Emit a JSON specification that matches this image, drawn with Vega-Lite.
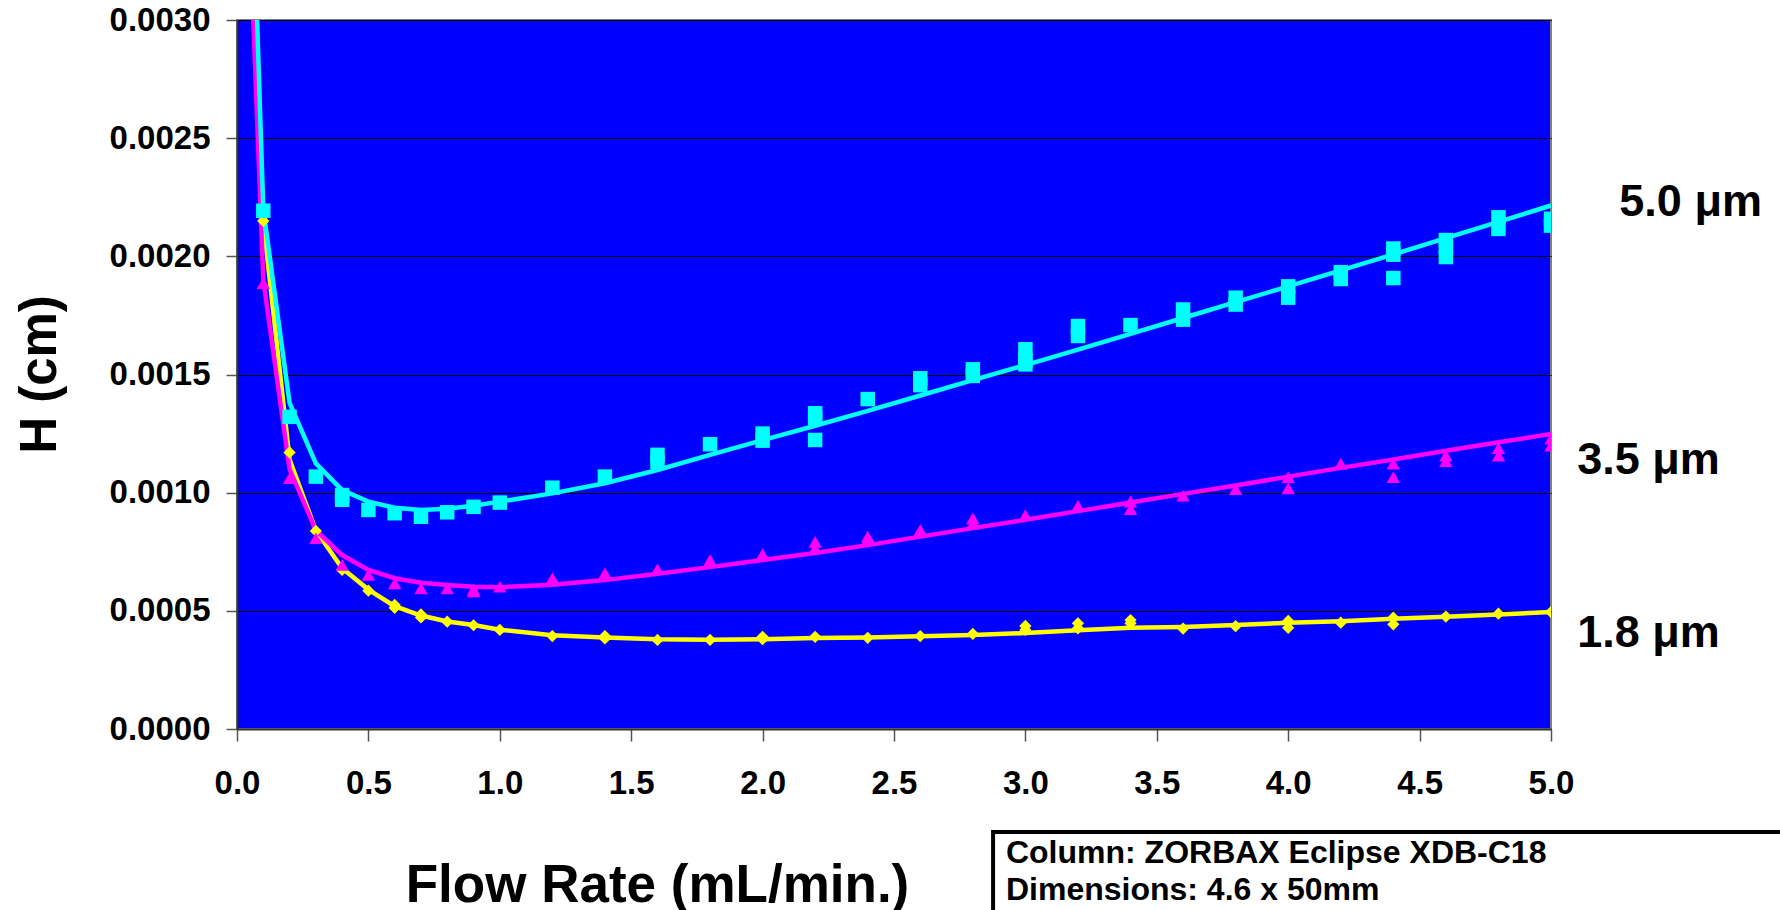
{
  "$schema": "https://vega.github.io/schema/vega-lite/v6.json",
  "width": 1314,
  "height": 709,
  "autosize": {"type": "none"},
  "padding": {"left": 237, "top": 20, "right": 229, "bottom": 181},
  "background": "white",
  "config": {
    "view": {"fill": "#0000FF", "stroke": "#808080", "strokeWidth": 2},
    "font": "Liberation Sans"
  },
  "datasets": {
    "fit": [
      {"series": "1.8", "flow": 0.05, "H": 0.00355},
      {"series": "1.8", "flow": 0.1, "H": 0.00215},
      {"series": "1.8", "flow": 0.2, "H": 0.00114},
      {"series": "1.8", "flow": 0.3, "H": 0.00084},
      {"series": "1.8", "flow": 0.4, "H": 0.00068},
      {"series": "1.8", "flow": 0.5, "H": 0.00059},
      {"series": "1.8", "flow": 0.6, "H": 0.00052},
      {"series": "1.8", "flow": 0.7, "H": 0.00048},
      {"series": "1.8", "flow": 0.8, "H": 0.000455},
      {"series": "1.8", "flow": 0.9, "H": 0.00044},
      {"series": "1.8", "flow": 1.0, "H": 0.00042},
      {"series": "1.8", "flow": 1.2, "H": 0.000397},
      {"series": "1.8", "flow": 1.4, "H": 0.000387},
      {"series": "1.8", "flow": 1.6, "H": 0.00038},
      {"series": "1.8", "flow": 1.8, "H": 0.000378},
      {"series": "1.8", "flow": 2.0, "H": 0.00038},
      {"series": "1.8", "flow": 2.2, "H": 0.000385},
      {"series": "1.8", "flow": 2.4, "H": 0.000387},
      {"series": "1.8", "flow": 2.6, "H": 0.000392},
      {"series": "1.8", "flow": 2.8, "H": 0.000398},
      {"series": "1.8", "flow": 3.0, "H": 0.000406},
      {"series": "1.8", "flow": 3.2, "H": 0.000418},
      {"series": "1.8", "flow": 3.4, "H": 0.000428},
      {"series": "1.8", "flow": 3.6, "H": 0.000432},
      {"series": "1.8", "flow": 3.8, "H": 0.00044},
      {"series": "1.8", "flow": 4.0, "H": 0.00045},
      {"series": "1.8", "flow": 4.2, "H": 0.000456},
      {"series": "1.8", "flow": 4.4, "H": 0.000466},
      {"series": "1.8", "flow": 4.6, "H": 0.000475},
      {"series": "1.8", "flow": 4.8, "H": 0.000485},
      {"series": "1.8", "flow": 5.0, "H": 0.000495},
      {"series": "3.5", "flow": 0.05, "H": 0.00335},
      {"series": "3.5", "flow": 0.1, "H": 0.0019},
      {"series": "3.5", "flow": 0.2, "H": 0.0011},
      {"series": "3.5", "flow": 0.3, "H": 0.00084},
      {"series": "3.5", "flow": 0.4, "H": 0.000736},
      {"series": "3.5", "flow": 0.5, "H": 0.000673},
      {"series": "3.5", "flow": 0.6, "H": 0.000638},
      {"series": "3.5", "flow": 0.7, "H": 0.000619},
      {"series": "3.5", "flow": 0.8, "H": 0.000609},
      {"series": "3.5", "flow": 0.9, "H": 0.000602},
      {"series": "3.5", "flow": 1.0, "H": 0.0006},
      {"series": "3.5", "flow": 1.2, "H": 0.00061},
      {"series": "3.5", "flow": 1.4, "H": 0.00063},
      {"series": "3.5", "flow": 1.6, "H": 0.000657},
      {"series": "3.5", "flow": 1.8, "H": 0.000685},
      {"series": "3.5", "flow": 2.0, "H": 0.000715},
      {"series": "3.5", "flow": 2.2, "H": 0.000745},
      {"series": "3.5", "flow": 2.4, "H": 0.000778},
      {"series": "3.5", "flow": 2.6, "H": 0.000814},
      {"series": "3.5", "flow": 2.8, "H": 0.00085},
      {"series": "3.5", "flow": 3.0, "H": 0.000885},
      {"series": "3.5", "flow": 3.2, "H": 0.000922},
      {"series": "3.5", "flow": 3.4, "H": 0.000958},
      {"series": "3.5", "flow": 3.6, "H": 0.000995},
      {"series": "3.5", "flow": 3.8, "H": 0.00103},
      {"series": "3.5", "flow": 4.0, "H": 0.001068},
      {"series": "3.5", "flow": 4.2, "H": 0.001105},
      {"series": "3.5", "flow": 4.4, "H": 0.00114},
      {"series": "3.5", "flow": 4.6, "H": 0.001177},
      {"series": "3.5", "flow": 4.8, "H": 0.001213},
      {"series": "3.5", "flow": 5.0, "H": 0.001248},
      {"series": "5.0", "flow": 0.05, "H": 0.0039},
      {"series": "5.0", "flow": 0.1, "H": 0.0022},
      {"series": "5.0", "flow": 0.2, "H": 0.00138},
      {"series": "5.0", "flow": 0.3, "H": 0.001124},
      {"series": "5.0", "flow": 0.4, "H": 0.001011},
      {"series": "5.0", "flow": 0.5, "H": 0.000962},
      {"series": "5.0", "flow": 0.6, "H": 0.000936},
      {"series": "5.0", "flow": 0.7, "H": 0.000927},
      {"series": "5.0", "flow": 0.8, "H": 0.000932},
      {"series": "5.0", "flow": 0.9, "H": 0.000945},
      {"series": "5.0", "flow": 1.0, "H": 0.000962},
      {"series": "5.0", "flow": 1.2, "H": 0.000997},
      {"series": "5.0", "flow": 1.4, "H": 0.00104},
      {"series": "5.0", "flow": 1.6, "H": 0.001096},
      {"series": "5.0", "flow": 1.8, "H": 0.00116},
      {"series": "5.0", "flow": 2.0, "H": 0.001222},
      {"series": "5.0", "flow": 2.2, "H": 0.001283},
      {"series": "5.0", "flow": 2.4, "H": 0.001346},
      {"series": "5.0", "flow": 2.6, "H": 0.001411},
      {"series": "5.0", "flow": 2.8, "H": 0.001476},
      {"series": "5.0", "flow": 3.0, "H": 0.00154},
      {"series": "5.0", "flow": 3.2, "H": 0.001605},
      {"series": "5.0", "flow": 3.4, "H": 0.001672},
      {"series": "5.0", "flow": 3.6, "H": 0.001739},
      {"series": "5.0", "flow": 3.8, "H": 0.001806},
      {"series": "5.0", "flow": 4.0, "H": 0.001873},
      {"series": "5.0", "flow": 4.2, "H": 0.001941},
      {"series": "5.0", "flow": 4.4, "H": 0.002008},
      {"series": "5.0", "flow": 4.6, "H": 0.002077},
      {"series": "5.0", "flow": 4.8, "H": 0.002146},
      {"series": "5.0", "flow": 5.0, "H": 0.002215}
    ],
    "obs": [
      {"series": "1.8", "flow": 0.1, "H": 0.00215},
      {"series": "1.8", "flow": 0.2, "H": 0.00117},
      {"series": "1.8", "flow": 0.3, "H": 0.000838},
      {"series": "1.8", "flow": 0.4, "H": 0.000673},
      {"series": "1.8", "flow": 0.5, "H": 0.000585},
      {"series": "1.8", "flow": 0.6, "H": 0.000513},
      {"series": "1.8", "flow": 0.6, "H": 0.000525},
      {"series": "1.8", "flow": 0.7, "H": 0.000472},
      {"series": "1.8", "flow": 0.7, "H": 0.000485},
      {"series": "1.8", "flow": 0.8, "H": 0.000454},
      {"series": "1.8", "flow": 0.9, "H": 0.000439},
      {"series": "1.8", "flow": 1.0, "H": 0.000419},
      {"series": "1.8", "flow": 1.2, "H": 0.000393},
      {"series": "1.8", "flow": 1.4, "H": 0.000383},
      {"series": "1.8", "flow": 1.4, "H": 0.000393},
      {"series": "1.8", "flow": 1.6, "H": 0.000377},
      {"series": "1.8", "flow": 1.8, "H": 0.000377},
      {"series": "1.8", "flow": 2.0, "H": 0.00038},
      {"series": "1.8", "flow": 2.0, "H": 0.00039},
      {"series": "1.8", "flow": 2.2, "H": 0.00039},
      {"series": "1.8", "flow": 2.4, "H": 0.000386},
      {"series": "1.8", "flow": 2.6, "H": 0.000393},
      {"series": "1.8", "flow": 2.8, "H": 0.000402},
      {"series": "1.8", "flow": 3.0, "H": 0.000436},
      {"series": "1.8", "flow": 3.0, "H": 0.000419},
      {"series": "1.8", "flow": 3.2, "H": 0.000447},
      {"series": "1.8", "flow": 3.2, "H": 0.000426},
      {"series": "1.8", "flow": 3.4, "H": 0.000461},
      {"series": "1.8", "flow": 3.4, "H": 0.000447},
      {"series": "1.8", "flow": 3.6, "H": 0.000425},
      {"series": "1.8", "flow": 3.8, "H": 0.000435},
      {"series": "1.8", "flow": 4.0, "H": 0.000457},
      {"series": "1.8", "flow": 4.0, "H": 0.000428},
      {"series": "1.8", "flow": 4.2, "H": 0.00045},
      {"series": "1.8", "flow": 4.4, "H": 0.000471},
      {"series": "1.8", "flow": 4.4, "H": 0.000443},
      {"series": "1.8", "flow": 4.6, "H": 0.000476},
      {"series": "1.8", "flow": 4.8, "H": 0.000488},
      {"series": "1.8", "flow": 5.0, "H": 0.000495},
      {"series": "3.5", "flow": 0.1, "H": 0.001886},
      {"series": "3.5", "flow": 0.2, "H": 0.001061},
      {"series": "3.5", "flow": 0.3, "H": 0.000807},
      {"series": "3.5", "flow": 0.4, "H": 0.000694},
      {"series": "3.5", "flow": 0.5, "H": 0.000652},
      {"series": "3.5", "flow": 0.6, "H": 0.000616},
      {"series": "3.5", "flow": 0.7, "H": 0.000595},
      {"series": "3.5", "flow": 0.8, "H": 0.000595},
      {"series": "3.5", "flow": 0.9, "H": 0.000591},
      {"series": "3.5", "flow": 0.9, "H": 0.000582},
      {"series": "3.5", "flow": 1.0, "H": 0.000602},
      {"series": "3.5", "flow": 1.2, "H": 0.000638},
      {"series": "3.5", "flow": 1.4, "H": 0.000659},
      {"series": "3.5", "flow": 1.6, "H": 0.000676},
      {"series": "3.5", "flow": 1.8, "H": 0.000715},
      {"series": "3.5", "flow": 2.0, "H": 0.00074},
      {"series": "3.5", "flow": 2.2, "H": 0.000792},
      {"series": "3.5", "flow": 2.2, "H": 0.000764},
      {"series": "3.5", "flow": 2.4, "H": 0.000814},
      {"series": "3.5", "flow": 2.4, "H": 0.0008},
      {"series": "3.5", "flow": 2.6, "H": 0.000842},
      {"series": "3.5", "flow": 2.8, "H": 0.000891},
      {"series": "3.5", "flow": 2.8, "H": 0.00087},
      {"series": "3.5", "flow": 3.0, "H": 0.000905},
      {"series": "3.5", "flow": 3.2, "H": 0.000944},
      {"series": "3.5", "flow": 3.4, "H": 0.000962},
      {"series": "3.5", "flow": 3.4, "H": 0.00093},
      {"series": "3.5", "flow": 3.6, "H": 0.000987},
      {"series": "3.5", "flow": 3.8, "H": 0.001015},
      {"series": "3.5", "flow": 4.0, "H": 0.001066},
      {"series": "3.5", "flow": 4.0, "H": 0.001018},
      {"series": "3.5", "flow": 4.2, "H": 0.001123},
      {"series": "3.5", "flow": 4.4, "H": 0.001123},
      {"series": "3.5", "flow": 4.4, "H": 0.001066},
      {"series": "3.5", "flow": 4.6, "H": 0.001156},
      {"series": "3.5", "flow": 4.6, "H": 0.001133},
      {"series": "3.5", "flow": 4.8, "H": 0.001188},
      {"series": "3.5", "flow": 4.8, "H": 0.001156},
      {"series": "3.5", "flow": 5.0, "H": 0.001228},
      {"series": "3.5", "flow": 5.0, "H": 0.001199},
      {"series": "5.0", "flow": 0.1, "H": 0.002193},
      {"series": "5.0", "flow": 0.2, "H": 0.001321},
      {"series": "5.0", "flow": 0.3, "H": 0.001068},
      {"series": "5.0", "flow": 0.4, "H": 0.00099},
      {"series": "5.0", "flow": 0.4, "H": 0.00097},
      {"series": "5.0", "flow": 0.5, "H": 0.000927},
      {"series": "5.0", "flow": 0.6, "H": 0.000913},
      {"series": "5.0", "flow": 0.7, "H": 0.000898},
      {"series": "5.0", "flow": 0.8, "H": 0.000917},
      {"series": "5.0", "flow": 0.9, "H": 0.00094},
      {"series": "5.0", "flow": 1.0, "H": 0.000958},
      {"series": "5.0", "flow": 1.2, "H": 0.001021},
      {"series": "5.0", "flow": 1.4, "H": 0.001068},
      {"series": "5.0", "flow": 1.6, "H": 0.00116},
      {"series": "5.0", "flow": 1.6, "H": 0.00113},
      {"series": "5.0", "flow": 1.8, "H": 0.001205},
      {"series": "5.0", "flow": 2.0, "H": 0.00125},
      {"series": "5.0", "flow": 2.0, "H": 0.00122},
      {"series": "5.0", "flow": 2.2, "H": 0.001336},
      {"series": "5.0", "flow": 2.2, "H": 0.001315},
      {"series": "5.0", "flow": 2.2, "H": 0.001223},
      {"series": "5.0", "flow": 2.4, "H": 0.001396},
      {"series": "5.0", "flow": 2.6, "H": 0.001484},
      {"series": "5.0", "flow": 2.6, "H": 0.001455},
      {"series": "5.0", "flow": 2.8, "H": 0.001522},
      {"series": "5.0", "flow": 2.8, "H": 0.001494},
      {"series": "5.0", "flow": 3.0, "H": 0.001607},
      {"series": "5.0", "flow": 3.0, "H": 0.001561},
      {"series": "5.0", "flow": 3.0, "H": 0.001543},
      {"series": "5.0", "flow": 3.2, "H": 0.001705},
      {"series": "5.0", "flow": 3.2, "H": 0.001663},
      {"series": "5.0", "flow": 3.4, "H": 0.001709},
      {"series": "5.0", "flow": 3.6, "H": 0.001775},
      {"series": "5.0", "flow": 3.6, "H": 0.001732},
      {"series": "5.0", "flow": 3.8, "H": 0.001825},
      {"series": "5.0", "flow": 3.8, "H": 0.001796},
      {"series": "5.0", "flow": 4.0, "H": 0.001873},
      {"series": "5.0", "flow": 4.0, "H": 0.001825},
      {"series": "5.0", "flow": 4.2, "H": 0.001933},
      {"series": "5.0", "flow": 4.2, "H": 0.001904},
      {"series": "5.0", "flow": 4.4, "H": 0.002033},
      {"series": "5.0", "flow": 4.4, "H": 0.002007},
      {"series": "5.0", "flow": 4.4, "H": 0.001908},
      {"series": "5.0", "flow": 4.6, "H": 0.002069},
      {"series": "5.0", "flow": 4.6, "H": 0.00204},
      {"series": "5.0", "flow": 4.6, "H": 0.001997},
      {"series": "5.0", "flow": 4.8, "H": 0.002165},
      {"series": "5.0", "flow": 4.8, "H": 0.002116},
      {"series": "5.0", "flow": 5.0, "H": 0.002159},
      {"series": "5.0", "flow": 5.0, "H": 0.00213}
    ],
    "labels": [
      {"flow": 5.26, "H": 0.00223, "text": "5.0 μm"},
      {"flow": 5.1, "H": 0.001138, "text": "3.5 μm"},
      {"flow": 5.1, "H": 0.000406, "text": "1.8 μm"}
    ],
    "box": [
      {"x1": 2.877, "x2": 6.2, "y1": -0.000436, "y2": -0.0009}
    ],
    "boxtext": [
      {"flow": 2.926, "H": -0.000567, "text": "Column: ZORBAX Eclipse XDB-C18"},
      {"flow": 2.926, "H": -0.000724, "text": "Dimensions: 4.6 x 50mm"}
    ]
  },
  "layer": [
    {
      "data": {"name": "fit"},
      "mark": {"type": "line", "strokeWidth": 4.5, "clip": true},
      "encoding": {
        "x": {
          "field": "flow", "type": "quantitative",
          "scale": {"domain": [0, 5], "nice": false, "zero": false},
          "axis": {
            "values": [0, 0.5, 1, 1.5, 2, 2.5, 3, 3.5, 4, 4.5, 5],
            "format": ".1f",
            "grid": false,
            "labelFlush": false,
            "labelFont": "Liberation Sans", "labelFontSize": 33, "labelFontWeight": "bold", "labelColor": "black",
            "labelPadding": 26, "tickSize": 12, "tickColor": "#555555", "tickWidth": 1.5,
            "domainColor": "#333333", "domainWidth": 2,
            "title": "Flow Rate (mL/min.)",
            "titleFont": "Liberation Sans", "titleFontSize": 53, "titleFontWeight": "bold", "titleColor": "black",
            "titleX": 420, "titleY": 172, "titleBaseline": "alphabetic", "titleAlign": "center"
          }
        },
        "y": {
          "field": "H", "type": "quantitative",
          "scale": {"domain": [0, 0.003], "nice": false, "zero": false},
          "axis": {
            "values": [0, 0.0005, 0.001, 0.0015, 0.002, 0.0025, 0.003],
            "format": ".4f",
            "grid": true, "gridColor": "black", "gridWidth": 1.2, "gridOpacity": 1,
            "labelFlush": false,
            "labelFont": "Liberation Sans", "labelFontSize": 33, "labelFontWeight": "bold", "labelColor": "black",
            "labelPadding": 16, "tickSize": 11, "tickColor": "#555555", "tickWidth": 1.5,
            "domainColor": "#333333", "domainWidth": 2,
            "title": "H (cm)",
            "titleFont": "Liberation Sans", "titleFontSize": 51, "titleFontWeight": "bold", "titleColor": "black",
            "titleX": -197, "titleY": 354, "titleAngle": -90, "titleBaseline": "middle", "titleAlign": "center"
          }
        },
        "color": {
          "field": "series", "type": "nominal",
          "scale": {"domain": ["1.8", "3.5", "5.0"], "range": ["#FFFF00", "#FF00FF", "#00FFFF"]},
          "legend": null
        }
      }
    },
    {
      "data": {"name": "obs"},
      "mark": {"type": "point", "filled": true, "opacity": 1, "clip": true},
      "encoding": {
        "x": {"field": "flow", "type": "quantitative"},
        "y": {"field": "H", "type": "quantitative"},
        "color": {"field": "series", "type": "nominal", "legend": null},
        "shape": {
          "field": "series", "type": "nominal",
          "scale": {"domain": ["1.8", "3.5", "5.0"], "range": ["diamond", "triangle-up", "square"]},
          "legend": null
        },
        "size": {
          "field": "series", "type": "nominal",
          "scale": {"domain": ["1.8", "3.5", "5.0"], "range": [150, 210, 115]},
          "legend": null
        }
      }
    },
    {
      "data": {"name": "labels"},
      "mark": {"type": "text", "align": "left", "baseline": "middle", "fontSize": 45, "fontWeight": "bold", "font": "Liberation Sans", "color": "black", "clip": false},
      "encoding": {
        "x": {"field": "flow", "type": "quantitative"},
        "y": {"field": "H", "type": "quantitative"},
        "text": {"field": "text"}
      }
    },
    {
      "data": {"name": "box"},
      "mark": {"type": "rect", "fill": "white", "stroke": "black", "strokeWidth": 4, "clip": false},
      "encoding": {
        "x": {"field": "x1", "type": "quantitative"},
        "x2": {"field": "x2"},
        "y": {"field": "y1", "type": "quantitative"},
        "y2": {"field": "y2"}
      }
    },
    {
      "data": {"name": "boxtext"},
      "mark": {"type": "text", "align": "left", "baseline": "alphabetic", "fontSize": 32, "fontWeight": "bold", "font": "Liberation Sans", "color": "black", "clip": false},
      "encoding": {
        "x": {"field": "flow", "type": "quantitative"},
        "y": {"field": "H", "type": "quantitative"},
        "text": {"field": "text"}
      }
    }
  ]
}
